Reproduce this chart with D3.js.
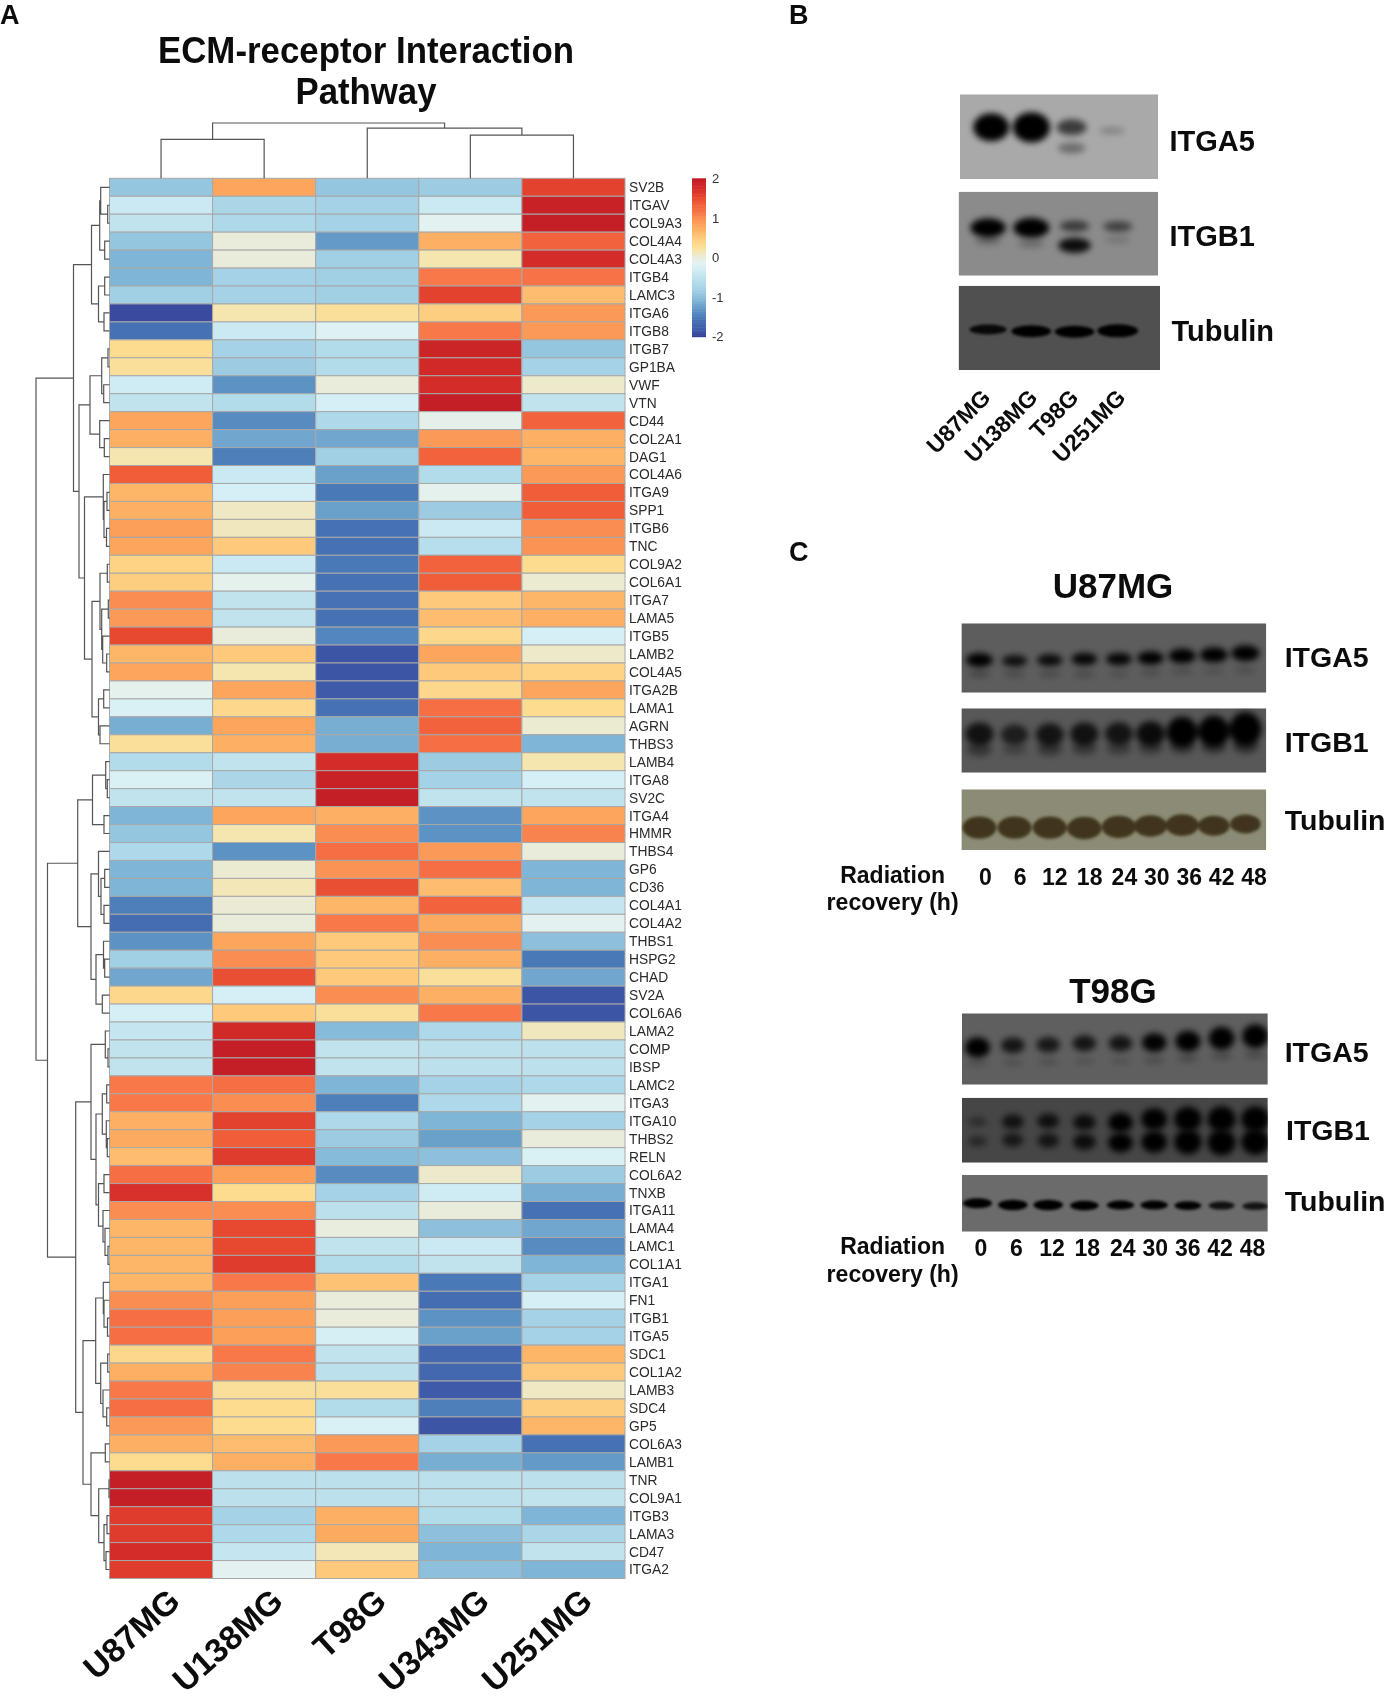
<!DOCTYPE html>
<html><head><meta charset="utf-8">
<script src="https://cdn.jsdelivr.net/npm/d3@7"></script>
<style>
html,body{margin:0;padding:0;background:#fff}
svg{display:block;filter:blur(0.45px)}
text{font-family:"Liberation Sans",Arial,sans-serif}
</style></head><body><svg id="c" width="1386" height="1698"></svg>
<script>
const genes=["SV2B","ITGAV","COL9A3","COL4A4","COL4A3","ITGB4","LAMC3","ITGA6","ITGB8","ITGB7","GP1BA","VWF","VTN","CD44","COL2A1","DAG1","COL4A6","ITGA9","SPP1","ITGB6","TNC","COL9A2","COL6A1","ITGA7","LAMA5","ITGB5","LAMB2","COL4A5","ITGA2B","LAMA1","AGRN","THBS3","LAMB4","ITGA8","SV2C","ITGA4","HMMR","THBS4","GP6","CD36","COL4A1","COL4A2","THBS1","HSPG2","CHAD","SV2A","COL6A6","LAMA2","COMP","IBSP","LAMC2","ITGA3","ITGA10","THBS2","RELN","COL6A2","TNXB","ITGA11","LAMA4","LAMC1","COL1A1","ITGA1","FN1","ITGB1","ITGA5","SDC1","COL1A2","LAMB3","SDC4","GP5","COL6A3","LAMB1","TNR","COL9A1","ITGB3","LAMA3","CD47","ITGA2"];
const samples=["U87MG","U138MG","T98G","U343MG","U251MG"];
const u87mg=[-0.95,-0.4,-0.5,-0.95,-1.1,-1.1,-0.85,-1.95,-1.6,0.3,0.25,-0.35,-0.5,0.8,0.7,0.15,1.35,0.65,0.7,0.85,0.8,0.4,0.45,1.0,0.9,1.5,0.65,0.8,-0.12,-0.25,-1.15,0.25,-0.65,-0.25,-0.5,-1.1,-0.95,-0.7,-1.1,-1.1,-1.5,-1.65,-1.35,-0.85,-1.2,0.35,-0.3,-0.45,-0.5,-0.5,1.1,1.1,0.7,0.75,0.6,1.2,1.7,1.0,0.65,0.65,0.65,0.65,1.0,1.2,1.2,0.35,0.7,1.1,1.2,0.9,0.7,0.3,1.95,1.95,1.6,1.6,1.75,1.6];
const u138mg=[0.8,-0.75,-0.7,0,0,-0.8,-0.8,0.15,-0.4,-0.8,-0.9,-1.35,-0.65,-1.4,-1.2,-1.5,-0.4,-0.3,0.08,0.1,0.5,-0.4,-0.12,-0.5,-0.5,0,0.5,0.15,0.8,0.35,0.8,0.7,-0.5,-0.75,-0.5,0.8,0.15,-1.35,0.03,0.12,0.02,0,0.8,1.0,1.45,-0.3,0.5,1.8,1.95,1.95,1.2,1.0,1.55,1.35,1.6,0.85,0.3,1.0,1.5,1.5,1.6,1.1,0.85,0.85,0.85,1.1,1.05,0.25,0.3,0.3,0.6,0.7,-0.55,-0.55,-0.8,-0.7,-0.45,-0.15];
const t98g=[-0.95,-0.8,-0.8,-1.3,-0.85,-0.85,-0.85,0.25,-0.2,-0.65,-0.65,0,-0.3,-0.7,-1.2,-0.85,-1.25,-1.55,-1.25,-1.6,-1.6,-1.55,-1.6,-1.6,-1.6,-1.45,-1.9,-1.9,-1.85,-1.6,-1.15,-1.15,1.75,1.9,1.95,0.7,1.0,1.2,0.95,1.45,0.65,1.1,0.5,0.5,0.5,1.0,0.25,-1.05,-0.5,-0.5,-1.1,-1.5,-0.7,-0.9,-1.05,-1.4,-0.8,-0.55,-0.02,-0.5,-0.65,0.55,0,0,-0.28,-0.5,-0.55,0.25,-0.65,-0.25,0.9,1.1,-0.55,-0.55,0.7,0.75,0.12,0.5];
const u343mg=[-0.9,-0.4,-0.15,0.7,0.15,1.1,1.55,0.45,1.1,1.85,1.8,1.75,1.95,-0.1,0.9,1.3,-0.65,-0.12,-0.9,-0.4,-0.6,1.3,1.35,0.5,0.6,0.35,0.8,0.5,0.35,1.2,1.3,1.2,-0.9,-0.8,-0.5,-1.35,-1.35,0.9,1.2,0.6,1.3,0.75,1.0,0.7,0.25,0.7,1.1,-0.7,-0.55,-0.55,-0.8,-0.7,-1.1,-1.25,-1.0,0.05,-0.35,0,-1.0,-0.4,-0.5,-1.55,-1.65,-1.35,-1.25,-1.7,-1.7,-1.85,-1.5,-1.9,-0.8,-1.15,-0.55,-0.55,-0.65,-1.0,-1.1,-1.0];
const u251mg=[1.55,1.9,1.95,1.3,1.75,1.15,0.6,0.9,0.9,-0.95,-0.8,0.05,-0.5,1.3,0.7,0.65,0.9,1.35,1.35,1.0,0.95,0.3,0.03,0.65,0.7,-0.3,0.06,0.4,0.8,0.3,0.03,-1.1,0.15,-0.3,-0.5,0.8,1.05,0,-1.1,-1.1,-0.45,-0.15,-1.0,-1.55,-1.2,-1.9,-1.9,0.1,-0.55,-0.55,-0.7,-0.15,-0.8,0,-0.25,-0.9,-1.15,-1.6,-1.2,-1.4,-1.1,-0.8,-0.3,-0.8,-0.8,0.65,0.5,0.08,0.45,0.65,-1.6,-1.3,-0.55,-0.5,-1.1,-0.75,-0.5,-1.1];
const seriesValues=[u87mg,u138mg,t98g,u343mg,u251mg];
const legendTicks=[2,1,0,-1,-2];
// Dendrograms: [merge height, left, right]; leaves are row / column indices
const rowTree=[73.5,
 [36,
  [18,[9.8,[8.8,0,[1.8,1,2]],[4.8,3,4]],[11,[4.8,5,6],[5.5,7,8]]],
  [30.5,
   [19.5,[7.8,[1.5,9,10],[5.8,11,12]],[9.8,13,[5.2,14,15]]],
   [25,
    [6.2,16,[5.5,[2.5,17,18],[3,19,20]]],
    [17.5,[9.5,[2.2,21,22],[7.8,[1.2,23,24],[6.8,25,[2.8,26,27]]]],[11,[5.8,28,29],[9.5,30,31]]]]]],
 [62,
  [31.8,
   [17,[3.8,32,[2.2,33,34]],[5.5,35,36]],
   [18.5,[11,37,[8.5,[4.8,38,39],[5.5,40,41]]],[13.5,[6,42,[4.8,43,44]],[7.2,45,46]]]],
  [33.8,
   [18.5,
    [4.2,47,[1.5,48,49]],
    [13.5,[7.2,[2.8,50,51],[3.2,52,[2.2,53,54]]],[11,[5.5,55,56],[6.5,57,[4.5,58,[1.5,59,60]]]]]],
   [26.5,
    [13.8,[6.2,61,[5.5,62,[2,63,64]]],[8.8,[1.8,65,66],[6.5,67,[2.8,68,69]]]],
    [18.5,[4.2,70,71],[10.8,[0.5,72,73],[5.5,[2.5,74,75],[3.5,76,77]]]]]]]];
const colTree=[55,[38.7,0,1],[50,2,[43,3,4]]];
// Colour ramp
const rampValues=[-2,-1.9,-1.6,-1.35,-1.1,-0.9,-0.7,-0.5,-0.3,-0.15,0,0.15,0.3,0.5,0.65,0.8,1,1.1,1.3,1.5,1.7,1.95,2];
const rampColors=["#353f98","#3d55a5","#4672b4","#5c93c4","#7fb5d6","#9ccbe2","#aed9ea","#c0e3ee","#d4eff6","#e3f2f1","#e9ecdb","#f5e5ae","#fddc90","#fec97b","#fdb567","#fca55c","#fa8d51","#f8784a","#f2633d","#e6492f","#d8302a","#c41e26","#bc1a28"];
// Blot readings: relative band intensity and migration (fraction of blot height)
const panelBLanes=["U87MG","U138MG","T98G","U251MG"];
const hours=[0,6,12,18,24,30,36,42,48];
const bItga5Top={i:[1,1.1,.5,.16],m:[.39,.39,.39,.43]};
const bItga5Low={i:[0,0,.28,0],m:[.63,.63,.635,.63]};
const bItgb1Top={i:[.95,1,.45,.42],m:[.43,.43,.41,.415]};
const bItgb1Low={i:[.22,.2,.7,.14],m:[.585,.62,.64,.575]};
const bTub={i:[.6,.8,.8,.9],m:[.52,.54,.545,.535]};
const uItga5Top={i:[.85,.65,.68,.72,.72,.8,.9,.95,1],m:[.53,.54,.53,.515,.515,.5,.47,.455,.43]};
const uItga5Low={i:[.22,.18,.18,.18,.14,.16,.16,.14,.16],m:[.73,.73,.73,.73,.73,.71,.69,.69,.68]};
const uItgb1Top={i:[.62,.52,.6,.62,.6,.68,.88,.92,1],m:[.4,.41,.41,.4,.395,.395,.37,.36,.32]};
const uItgb1Low={i:[.3,.2,.3,.28,.26,.28,.3,.3,.36],m:[.64,.64,.63,.62,.62,.61,.6,.6,.58]};
const uTub={i:[.9,.9,.9,.92,.9,.86,.86,.78,.72],m:[.63,.63,.63,.64,.62,.605,.59,.6,.57]};
const tItga5Top={i:[.82,.6,.58,.6,.6,.75,.85,.95,1],m:[.48,.45,.44,.42,.42,.41,.39,.35,.32]};
const tItga5Low={i:[.14,.14,.14,.12,.12,.16,.18,.18,.18],m:[.7,.69,.68,.67,.67,.66,.63,.6,.58]};
const tItgb1Top={i:[.25,.5,.52,.55,.72,.82,.95,1,1],m:[.37,.37,.36,.38,.38,.33,.33,.33,.33]};
const tItgb1Low={i:[.3,.45,.48,.55,.72,.8,.95,1,1],m:[.67,.65,.66,.68,.69,.68,.68,.69,.68]};
const tTub={i:[.75,.8,.8,.72,.62,.62,.58,.5,.48],m:[.5,.53,.53,.54,.53,.53,.54,.54,.55]};

const svg=d3.select("#c");
const defs=svg.append("defs");
[["b1",1.8],["b2",3]].forEach(([id,s])=>{
  defs.append("filter").attr("id",id).attr("x","-50%").attr("y","-100%").attr("width","200%").attr("height","300%")
    .append("feGaussianBlur").attr("stdDeviation",s);
});
const ramp=d3.scaleLinear().domain(rampValues).range(rampColors).clamp(true);

function txt(s,x,y,size,opt={}){
  const t=svg.append("text").attr("x",x).attr("y",y).attr("font-size",size)
    .attr("font-weight",opt.w||"bold").attr("fill",opt.f||"#0c0c0c").attr("text-anchor",opt.a||"start").text(s);
  if(opt.r!==undefined)t.attr("transform",`rotate(${opt.r} ${x} ${y})`);
  if(opt.len)t.attr("textLength",opt.len).attr("lengthAdjust","spacingAndGlyphs");
  return t;
}
txt("A",0,24,27);txt("B",789,24,27);txt("C",789,561,27);
txt("ECM-receptor Interaction",366,63,37,{a:"middle",len:416});
txt("Pathway",366,104,37,{a:"middle",len:141});

// --- Heatmap
const hm={x0:109.5,x1:625,y0:178.3,y1:1578.5};
const xB=d3.scaleBand().domain(samples).range([hm.x0,hm.x1]);
const yB=d3.scaleBand().domain(genes).range([hm.y0,hm.y1]);
const gH=svg.append("g");
samples.forEach((s,c)=>{
  gH.append("g").selectAll("rect").data(seriesValues[c]).join("rect")
   .attr("x",xB(s)).attr("y",(d,i)=>yB(genes[i])).attr("width",xB.bandwidth()).attr("height",yB.bandwidth())
   .attr("fill",d=>ramp(d)).attr("stroke","#a8a8a8").attr("stroke-width",1);
});
svg.append("g").selectAll("text").data(genes).join("text")
  .attr("x",hm.x1+4).attr("y",d=>yB(d)+yB.bandwidth()/2).attr("dy","0.36em")
  .attr("font-size",13.8).attr("fill","#2b2b2b").text(d=>d);
samples.forEach(s=>{
  txt(s,xB(s)+xB.bandwidth()/2+21,1604,33.5,{a:"end",r:-42});
});

// --- Dendrograms
function dendro(tree,posLeaf,scaleH,toSeg){
  const root=d3.hierarchy(tree,d=>Array.isArray(d)?d.slice(1):null);
  root.eachAfter(n=>{
    if(n.children){n.h=n.data[0];n.p=(n.children[0].p+n.children[1].p)/2;}
    else{n.h=0;n.p=posLeaf(n.data);}
  });
  const p=d3.path();
  root.each(n=>{ if(n.children){
    const [a,b]=n.children;
    toSeg(p,scaleH(n.h),a.p,b.p,scaleH(a.h),scaleH(b.h));
  }});
  return p.toString();
}
const rowH=d3.scaleLinear().domain([0,73.5]).range([hm.x0,36]);
svg.append("path").attr("fill","none").attr("stroke","#555").attr("stroke-width",1.2)
  .attr("d",dendro(rowTree,i=>yB(genes[i])+yB.bandwidth()/2,rowH,(p,h,a,b,ha,hb)=>{
    p.moveTo(ha,a);p.lineTo(h,a);p.lineTo(h,b);p.lineTo(hb,b);}));
const colH=d3.scaleLinear().domain([0,55]).range([hm.y0,123]);
svg.append("path").attr("fill","none").attr("stroke","#555").attr("stroke-width",1.2)
  .attr("d",dendro(colTree,i=>xB(samples[i])+xB.bandwidth()/2,colH,(p,h,a,b,ha,hb)=>{
    p.moveTo(a,ha);p.lineTo(a,h);p.lineTo(b,h);p.lineTo(b,hb);}));

// --- Legend
const lgY=d3.scaleLinear().domain([-2,2]).range([336.7,178.3]);
const lgSteps=d3.range(-2,2,0.04);
svg.append("g").selectAll("rect").data(lgSteps).join("rect")
  .attr("x",692).attr("width",14).attr("y",d=>lgY(d+0.04)).attr("height",d=>lgY(d)-lgY(d+0.04)+0.5).attr("fill",d=>ramp(d));
svg.append("g").selectAll("text").data(legendTicks).join("text")
  .attr("x",712).attr("y",d=>lgY(d)).attr("dy","0.36em").attr("font-size",13).attr("fill","#333").text(d=>d);

// --- Blots
let clipN=0;
function blot(b){
  const id="clip"+(clipN++);
  defs.append("clipPath").attr("id",id).append("rect").attr("x",b.x0).attr("y",b.y0).attr("width",b.x1-b.x0).attr("height",b.y1-b.y0);
  const g=svg.append("g").attr("clip-path",`url(#${id})`);
  g.append("rect").attr("x",b.x0).attr("y",b.y0).attr("width",b.x1-b.x0).attr("height",b.y1-b.y0).attr("fill",b.bg);
  const y=d3.scaleLinear().domain([0,1]).range([b.y0,b.y1]);
  const rx=d3.scaleLinear().domain([0,1]).range(b.rx), ry=d3.scaleLinear().domain([0,1]).range(b.ry);
  b.bands.forEach(band=>{
    g.append("g").attr("filter",`url(#${b.blur||"b2"})`).selectAll("ellipse").data(band.i).join("ellipse")
      .attr("cx",(d,k)=>b.lane(k)).attr("cy",(d,k)=>y(band.m[k]))
      .attr("rx",d=>rx(d)).attr("ry",d=>ry(d))
      .attr("fill",b.ink||"#000").attr("opacity",d=>Math.min(1,d*(b.gain||1.3)));
  });
}
const laneB=r=>d3.scalePoint().domain(d3.range(4)).range(r);
const bx=z=>770+z/2.545;
blot({x0:960,x1:1158,y0:94.3,y1:179,bg:"#a9a9a9",rx:[12,18],ry:[2,14],lane:laneB([bx(563),bx(870)]),bands:[bItga5Top,bItga5Low]});
blot({x0:958.6,x1:1158,y0:191.7,y1:275.7,bg:"#8b8b8b",rx:[12,18],ry:[2,10],lane:laneB([bx(555),bx(885)]),bands:[bItgb1Top,bItgb1Low]});
blot({x0:958.6,x1:1160,y0:285.7,y1:370,bg:"#505050",rx:[15,21],ry:[2,7],gain:1.5,lane:laneB([bx(555),bx(885)]),blur:"b1",bands:[bTub]});
txt("ITGA5",1169.5,150.7,29);txt("ITGB1",1169.5,246,29);txt("Tubulin",1171.5,340.7,29);
[[992,"U87MG"],[1039,"U138MG"],[1080,"T98G"],[1127,"U251MG"]].forEach(([x,s])=>txt(s,x,399,23,{a:"end",r:-45}));

// Panel C
function timeScale(pts){return d3.scaleLinear().domain([0,12,24,48]).range(pts);}
const laneU=timeScale([bx(533),bx(712),bx(888),bx(1210)]);
const laneT=timeScale([bx(528),bx(708),bx(892),bx(1235)]);
const asLane=s=>k=>s(hours[k]);
const cU={x0:961.4,x1:1266.3};
blot({...cU,y0:623.3,y1:692.7,bg:"#5d5d5d",rx:[10,14],ry:[2,8],lane:asLane(laneU),bands:[uItga5Low,uItga5Top]});
blot({...cU,y0:708.3,y1:772.7,bg:"#585858",rx:[11,16],ry:[3,17],lane:asLane(laneU),bands:[uItgb1Low,uItgb1Top]});
blot({...cU,y0:789.3,y1:850,bg:"#8c8c76",ink:"#40351b",gain:1.8,rx:[8,18],ry:[3,12],lane:asLane(laneU),blur:"b1",bands:[uTub]});
txt("U87MG",1113,598,35,{a:"middle"});
txt("ITGA5",1284.7,667,28.5);txt("ITGB1",1284.7,751.7,28.5);txt("Tubulin",1284.7,830,28.5);
txt("Radiation",892.6,882.7,23,{a:"middle"});txt("recovery (h)",892.6,910,23,{a:"middle",len:132});
const tickU=d3.scaleLinear().domain([0,24,48]).range([bx(548),bx(902),bx(1232)]);
svg.append("g").selectAll("text").data(hours).join("text").attr("x",d=>tickU(d)).attr("y",885).attr("text-anchor","middle")
  .attr("font-size",23).attr("font-weight","bold").attr("fill","#0c0c0c").text(d=>d);

const cT={x0:962,x1:1267.8};
blot({...cT,y0:1013.3,y1:1084.7,bg:"#5f5f5f",rx:[10,13],ry:[2,12],lane:asLane(laneT),bands:[tItga5Low,tItga5Top]});
blot({...cT,y0:1097.7,y1:1162.7,bg:"#464646",rx:[8,14],ry:[2,13],lane:asLane(laneT),gain:1.5,bands:[tItgb1Top,tItgb1Low]});
blot({...cT,y0:1175,y1:1231.7,bg:"#6b6b6b",rx:[10,16],ry:[2,6],gain:1.7,lane:asLane(laneT),blur:"b1",bands:[tTub]});
txt("T98G",1113,1002.7,35,{a:"middle"});
txt("ITGA5",1284.7,1061.7,28.5);txt("ITGB1",1286,1140,28.5);txt("Tubulin",1284.7,1210.7,28.5);
txt("Radiation",892.6,1254,23,{a:"middle"});txt("recovery (h)",892.6,1281.7,23,{a:"middle",len:132});
const tickT=d3.scaleLinear().domain([0,24,48]).range([bx(537),bx(898),bx(1228)]);
svg.append("g").selectAll("text").data(hours).join("text").attr("x",d=>tickT(d)).attr("y",1256).attr("text-anchor","middle")
  .attr("font-size",23).attr("font-weight","bold").attr("fill","#0c0c0c").text(d=>d);
</script></body></html>
